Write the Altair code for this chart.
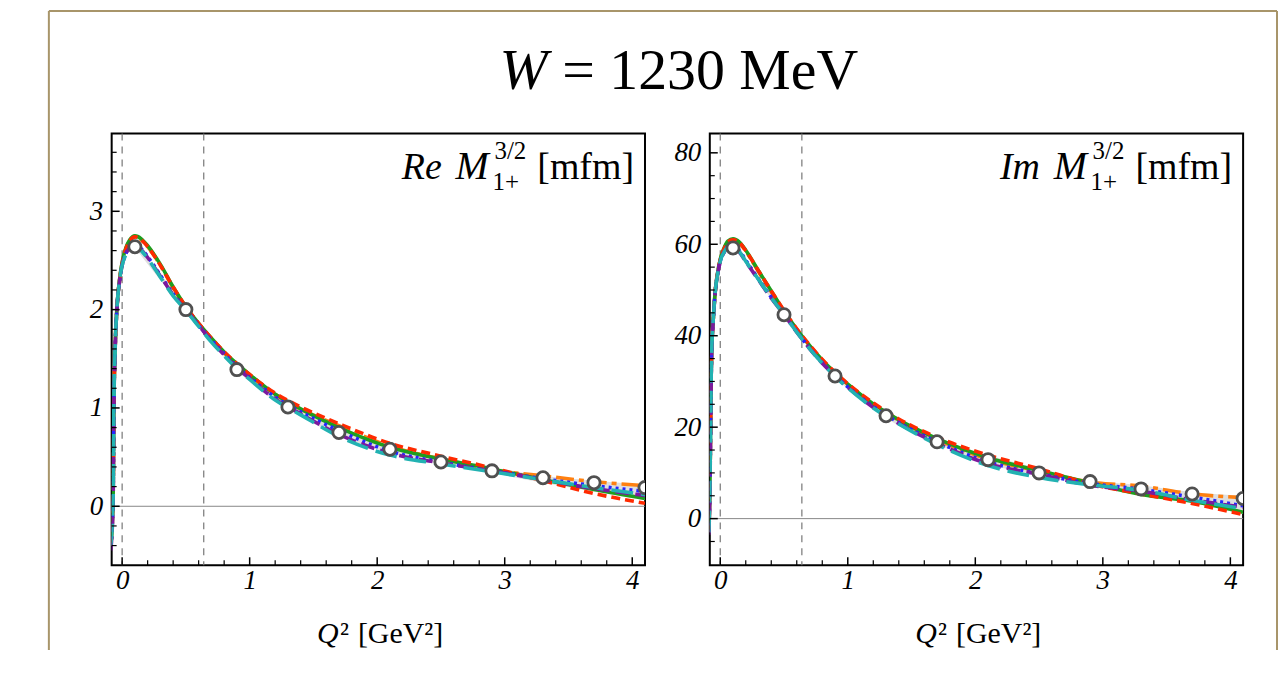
import altair as alt
import pandas as pd

# ---------------- data ----------------
Q2 = [-0.09, -0.08, -0.075, -0.07, -0.065, -0.055, -0.04, -0.02, 0.0, 0.03, 0.06, 0.1, 0.15, 0.2,
      0.3, 0.4, 0.5, 0.6, 0.7, 0.8, 0.9, 1.0, 1.2, 1.4, 1.7, 2.1, 2.5, 2.9, 3.3, 3.7, 4.1]

RE_ORANGE = [-0.4, -0.25, -0.1, 0.15, 1.0, 1.6, 2.03, 2.3, 2.47, 2.62, 2.70, 2.74, 2.71, 2.64,
             2.45, 2.22, 2.02, 1.85, 1.70, 1.56, 1.44, 1.33, 1.14, 0.99, 0.82, 0.61, 0.48, 0.37, 0.31, 0.25, 0.21]
RE_GREEN = [-0.4, -0.25, -0.1, 0.15, 1.0, 1.6, 2.03, 2.31, 2.48, 2.63, 2.71, 2.75, 2.72, 2.65,
            2.46, 2.23, 2.03, 1.86, 1.71, 1.57, 1.45, 1.34, 1.14, 0.99, 0.80, 0.60, 0.48, 0.38, 0.27, 0.17, 0.08]
RE_RED = [-0.4, -0.25, -0.1, 0.15, 1.0, 1.6, 2.03, 2.3, 2.47, 2.62, 2.70, 2.74, 2.71, 2.64,
          2.45, 2.23, 2.03, 1.86, 1.71, 1.57, 1.45, 1.34, 1.15, 1.01, 0.84, 0.64, 0.51, 0.39, 0.26, 0.13, 0.03]
RE_BLUE = [-0.4, -0.25, -0.1, 0.15, 1.0, 1.6, 2.02, 2.29, 2.45, 2.57, 2.64, 2.67, 2.62, 2.54,
           2.35, 2.16, 2.00, 1.84, 1.69, 1.55, 1.42, 1.31, 1.11, 0.96, 0.77, 0.56, 0.45, 0.36, 0.28, 0.21, 0.15]
RE_PURPLE = [-0.45, -0.3, -0.15, 0.1, 0.95, 1.58, 2.02, 2.29, 2.45, 2.57, 2.63, 2.66, 2.61, 2.53,
             2.34, 2.15, 2.00, 1.84, 1.68, 1.54, 1.41, 1.30, 1.09, 0.94, 0.73, 0.54, 0.44, 0.36, 0.27, 0.18, 0.11]
RE_CYAN = [-0.4, -0.25, -0.1, 0.15, 1.0, 1.6, 2.03, 2.3, 2.45, 2.56, 2.62, 2.65, 2.60, 2.52,
           2.33, 2.14, 1.99, 1.83, 1.67, 1.53, 1.40, 1.29, 1.08, 0.93, 0.71, 0.52, 0.43, 0.35, 0.27, 0.19, 0.12]

IM_ORANGE = [-3.0, 9.0, 22.0, 33.0, 38.5, 43.5, 49.5, 53.8, 56.6, 59.0, 60.5, 61.0, 60.3, 58.5,
             54.0, 49.6, 45.3, 41.3, 37.8, 34.6, 31.8, 29.3, 25.0, 21.5, 17.3, 13.0, 10.4, 8.0, 7.1, 5.4, 4.6]
IM_GREEN = [-3.0, 9.0, 22.0, 33.0, 38.5, 43.5, 49.5, 53.9, 56.7, 59.2, 60.7, 61.2, 60.5, 58.7,
            54.2, 49.8, 45.4, 41.4, 37.9, 34.7, 31.9, 29.4, 25.1, 21.6, 17.5, 13.3, 10.5, 7.8, 5.3, 3.8, 1.4]
IM_RED = [-3.0, 9.0, 22.0, 33.0, 38.5, 43.5, 49.5, 53.8, 56.6, 59.0, 60.5, 61.0, 60.4, 58.6,
          54.2, 49.8, 45.5, 41.5, 38.0, 34.8, 32.0, 29.5, 25.3, 21.8, 17.8, 13.9, 10.9, 7.6, 5.4, 3.3, 0.9]
IM_BLUE = [-3.0, 9.0, 22.0, 33.0, 38.5, 43.5, 49.4, 53.6, 56.3, 58.3, 59.5, 59.7, 58.6, 56.5,
           52.4, 48.4, 44.7, 40.9, 37.3, 34.1, 31.3, 28.8, 24.5, 21.0, 16.8, 12.4, 9.8, 7.7, 6.4, 4.7, 2.8]
IM_PURPLE = [-3.5, 8.0, 21.0, 32.5, 38.0, 43.2, 49.3, 53.5, 56.2, 58.2, 59.4, 59.5, 58.3, 56.2,
             52.2, 48.2, 44.6, 40.8, 37.2, 34.0, 31.2, 28.7, 24.3, 20.8, 16.5, 12.0, 9.7, 7.3, 6.0, 4.1, 2.5]
IM_CYAN = [-3.0, 9.0, 22.0, 33.0, 38.5, 43.5, 49.4, 53.6, 56.3, 58.3, 59.4, 59.6, 58.4, 56.3,
           52.3, 48.3, 44.6, 40.8, 37.2, 34.0, 31.1, 28.6, 24.2, 20.7, 16.2, 11.6, 9.0, 7.4, 6.2, 4.0, 2.2]

PTS_Q2 = [0.1, 0.5, 0.9, 1.3, 1.7, 2.1, 2.5, 2.9, 3.3, 3.7, 4.1]
RE_PTS = [2.64, 2.00, 1.39, 1.01, 0.75, 0.58, 0.45, 0.36, 0.29, 0.24, 0.19]
IM_PTS = [59.2, 44.6, 31.2, 22.5, 16.8, 12.9, 10.0, 8.1, 6.5, 5.4, 4.4]

RE_BAND_LO = [2.63, 1.98, 1.38, 0.99, 0.72, 0.54, 0.43, 0.34, 0.24, 0.15, 0.06]
RE_BAND_HI = [2.72, 2.03, 1.45, 1.08, 0.82, 0.62, 0.50, 0.40, 0.31, 0.26, 0.22]
IM_BAND_LO = [59.5, 44.5, 31.0, 22.0, 16.3, 12.0, 9.4, 7.3, 5.3, 3.4, 1.0]
IM_BAND_HI = [61.0, 45.5, 32.0, 23.6, 17.8, 13.9, 11.0, 8.4, 7.3, 5.8, 5.0]

X_MAJOR = [0, 1, 2, 3, 4]
X_MINOR = [0.2, 0.4, 0.6, 0.8, 1.2, 1.4, 1.6, 1.8, 2.2, 2.4, 2.6, 2.8, 3.2, 3.4, 3.6, 3.8]
RE_Y_MAJOR = [0, 1, 2, 3]
RE_Y_MINOR = [-0.4, -0.2, 0.2, 0.4, 0.6, 0.8, 1.2, 1.4, 1.6, 1.8, 2.2, 2.4, 2.6, 2.8, 3.2, 3.4, 3.6]
IM_Y_MAJOR = [0, 20, 40, 60, 80]
IM_Y_MINOR = [-5, 5, 10, 15, 25, 30, 35, 45, 50, 55, 65, 70, 75]
DASHED_Q2 = [0.0, 0.64]

SERIES_NAMES = ["orange", "green", "red", "blue", "purple", "cyan"]
SERIES_COLORS = ["#FF8010", "#1E9E1E", "#FF2A00", "#2424FF", "#7A1A9E", "#22B2B2"]
SERIES_DASHES = [[18, 5, 5, 5], None, [9, 5], [3, 4], [14, 6], [22, 8]]

RE_SERIES = [RE_ORANGE, RE_GREEN, RE_RED, RE_BLUE, RE_PURPLE, RE_CYAN]
IM_SERIES = [IM_ORANGE, IM_GREEN, IM_RED, IM_BLUE, IM_PURPLE, IM_CYAN]

# ---------------- layout constants ----------------
W, H = 535, 433
SERIF = "Liberation Serif"
X_DOMAIN = [-0.082, 4.1]


def text_layer(txt, x, y, size, italic=False, align="left"):
    kw = dict(font=SERIF, fontSize=size, align=align, baseline="alphabetic", color="black")
    if italic:
        kw["fontStyle"] = "italic"
    return alt.Chart(pd.DataFrame({"t": [txt]})).mark_text(**kw).encode(
        text="t:N", x=alt.value(x), y=alt.value(y))


def panel(series, pts, band_lo, band_hi, ydomain, ymajor, yminor, prefix, extra=None):
    xs = alt.Scale(domain=X_DOMAIN, nice=False, zero=False)
    ys = alt.Scale(domain=ydomain, nice=False, zero=False)
    xaxis = alt.Axis(values=X_MAJOR, ticks=False, domain=False, grid=False, title=None,
                     labelFont=SERIF, labelFontStyle="italic", labelFontSize=27,
                     labelColor="black", labelPadding=2, labelFlush=False, labelOverlap=False,
                     format="d")
    yaxis = alt.Axis(values=ymajor, ticks=False, domain=False, grid=False, title=None,
                     labelFont=SERIF, labelFontStyle="italic", labelFontSize=27,
                     labelColor="black", labelPadding=9, labelFlush=False, labelOverlap=False,
                     format="d")
    X = lambda f: alt.X(f, scale=xs, axis=xaxis)
    Y = lambda f: alt.Y(f, scale=ys, axis=yaxis)

    layers = []
    # zero line
    layers.append(alt.Chart(pd.DataFrame({"y": [0]})).mark_rule(color="#888888", strokeWidth=1)
                  .encode(y=Y("y:Q")))
    # dashed verticals
    layers.append(alt.Chart(pd.DataFrame({"q": DASHED_Q2})).mark_rule(
        color="#777777", strokeWidth=1.2, strokeDash=[7, 6]).encode(x=X("q:Q")))
    # band
    layers.append(alt.Chart(pd.DataFrame({"q": PTS_Q2, "y": band_lo, "y2": band_hi}))
                  .mark_area(color="#DCDCDC", opacity=0.9, interpolate="monotone", clip=True)
                  .encode(x=X("q:Q"), y=Y("y:Q"), y2="y2:Q"))
    # model curves
    for name, col, dash, vals in zip(SERIES_NAMES, SERIES_COLORS, SERIES_DASHES, series):
        kw = dict(color=col, strokeWidth=3.6, interpolate="monotone", clip=True, strokeCap="butt")
        if dash is not None:
            kw["strokeDash"] = dash
        layers.append(alt.Chart(pd.DataFrame({"q": Q2, "y": vals})).mark_line(**kw)
                      .encode(x=X("q:Q"), y=Y("y:Q")))
    # data points
    layers.append(alt.Chart(pd.DataFrame({"q": PTS_Q2, "y": pts})).mark_point(
        shape="circle", filled=True, fill="white", stroke="#505050", strokeWidth=2.8,
        size=150, opacity=1, clip=True).encode(x=X("q:Q"), y=Y("y:Q")))
    # inward ticks
    layers.append(alt.Chart(pd.DataFrame({"q": X_MAJOR})).mark_rule(color="black", strokeWidth=1.5)
                  .encode(x=X("q:Q"), y=alt.value(H), y2=alt.value(H - 8)))
    layers.append(alt.Chart(pd.DataFrame({"q": X_MINOR})).mark_rule(color="black", strokeWidth=1.2)
                  .encode(x=X("q:Q"), y=alt.value(H), y2=alt.value(H - 5)))
    layers.append(alt.Chart(pd.DataFrame({"y": ymajor})).mark_rule(color="black", strokeWidth=1.5)
                  .encode(y=Y("y:Q"), x=alt.value(0), x2=alt.value(8)))
    layers.append(alt.Chart(pd.DataFrame({"y": yminor})).mark_rule(color="black", strokeWidth=1.2)
                  .encode(y=Y("y:Q"), x=alt.value(0), x2=alt.value(5)))
    # panel label  e.g.  Re M^{3/2}_{1+} [mfm]
    layers.append(text_layer(prefix, 291, 46, 38, italic=True))
    layers.append(text_layer("M", 345, 46, 40, italic=True))
    layers.append(text_layer("3/2", 384, 25, 25))
    layers.append(text_layer("1+", 382, 57, 25))
    layers.append(text_layer("[mfm]", 524, 46, 38, align="right"))
    # x axis title  Q^2 [GeV^2]
    layers.append(text_layer("Q", 206, 511, 30, italic=True))
    layers.append(text_layer("\u00b2", 229, 511, 30))
    layers.append(text_layer("[GeV\u00b2]", 247, 511, 30))
    if extra:
        layers.extend(extra)
    return alt.layer(*layers).properties(width=W, height=H)


gold = "#A8956A"
frame_df = pd.DataFrame({"a": [0]})
decor = [
    alt.Chart(frame_df).mark_rule(color=gold, strokeWidth=2).encode(
        x=alt.value(-63), x2=alt.value(1169), y=alt.value(-123)),
    alt.Chart(frame_df).mark_rule(color=gold, strokeWidth=2).encode(
        x=alt.value(-63), y=alt.value(-123), y2=alt.value(518)),
    alt.Chart(frame_df).mark_rule(color=gold, strokeWidth=2).encode(
        x=alt.value(1169), y=alt.value(-123), y2=alt.value(518)),
    text_layer("W", 389, -45, 58, italic=True),
    text_layer("= 1230 MeV", 452, -45, 58),
]

left = panel(RE_SERIES, RE_PTS, RE_BAND_LO, RE_BAND_HI, [-0.6, 3.79], RE_Y_MAJOR, RE_Y_MINOR,
             "Re", extra=decor)
right = panel(IM_SERIES, IM_PTS, IM_BAND_LO, IM_BAND_HI, [-10.2, 84.2], IM_Y_MAJOR, IM_Y_MINOR,
              "Im")

chart = alt.hconcat(left, right, spacing=65, bounds="flush").properties(
    padding={"left": 39, "top": 0, "right": 0, "bottom": 0}
).configure_view(stroke="black", strokeWidth=2)

chart.save("out.html", embed_options={"renderer": "svg", "actions": False})
